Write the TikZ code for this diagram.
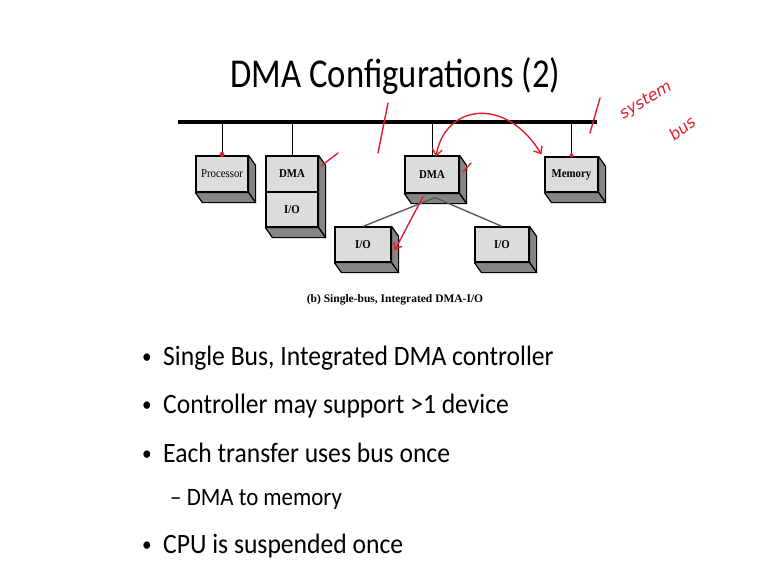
\documentclass[tikz,border=0pt]{standalone}
\usepackage{fontspec}
\setmainfont{Carlito}
\newfontfamily\titlefont[FakeStretch=0.845]{Carlito}
\newfontfamily\bulletfont[FakeStretch=0.915]{Carlito}
\newfontfamily\figfont[FakeStretch=0.9]{Liberation Serif}
\newfontfamily\capfont{Liberation Serif}
\newfontfamily\handfont{DejaVu Sans}
\usetikzlibrary{arrows.meta}

\definecolor{facegray}{HTML}{DCDCDC}
\definecolor{sidegray}{HTML}{858585}
\definecolor{linkgray}{HTML}{5A5A5A}
\definecolor{pen}{HTML}{E0202C}

% darker right and bottom faces of a 3-D box
\newcommand\boxdepth[2]{%
  \filldraw[sideface] (#1.north east) -- ++(7,10) -- ([shift={(7,10)}]#2.south east) -- (#2.south east) -- cycle;
  \filldraw[sideface] (#2.south west) -- (#2.south east) -- ++(7,10) -- ([shift={(7,10)}]#2.south west) -- cycle;
}

\begin{document}
\begin{tikzpicture}[x=1pt,y=-1pt,
  frontface/.style={draw=black, line width=1.2pt, fill=facegray, inner sep=0pt,
    font=\figfont\bfseries\fontsize{12}{14}\selectfont},
  sideface/.style={draw=black, line width=1.2pt, fill=sidegray, line join=round},
  drop/.style={draw=black, line width=1pt},
  link/.style={draw=linkgray, line width=1.4pt},
  ink/.style={draw=pen, line width=1.4pt, line cap=round, line join=round},
  inkarrow/.style={ink, -{Straight Barb[length=6pt,width=9pt]}},
  bullet/.style={anchor=base west, inner sep=0pt, font=\bulletfont\fontsize{28}{32}\selectfont},
  dot/.style={anchor=base west, inner sep=0pt, font=\bulletfont\fontsize{21}{24}\selectfont},
  subbullet/.style={anchor=base west, inner sep=0pt, font=\bulletfont\fontsize{25}{29}\selectfont},
  hand/.style={text=pen, inner sep=0pt, font=\handfont\itshape\fontsize{16}{18}\selectfont},
]
\useasboundingbox[fill=white] (0,0) rectangle (767,574);

% title
\node[anchor=base, inner sep=0pt, font=\titlefont\fontsize{41}{48}\selectfont] (title) at (395.5,87) {DMA Configurations (2)};

% system bus
\coordinate (busL) at (178,122);
\coordinate (busR) at (597,122);
\draw[line width=4.5pt] (busL) -- (busR);

% modules
\node[frontface, minimum width=52, minimum height=36] (proc) at (222,174) {\mdseries Processor};
\node[frontface, minimum width=52, minimum height=36] (dmaA) at (292,174) {DMA};
\node[frontface, minimum width=52, minimum height=35] (ioA) at (292,209.5) {I/O};
\node[frontface, minimum width=54, minimum height=37] (dmaB) at (432,174.5) {DMA};
\node[frontface, minimum width=53, minimum height=35] (mem) at (571.5,174.5) {Memory};
\node[frontface, minimum width=56, minimum height=35] (ioL) at (363,244.5) {I/O};
\node[frontface, minimum width=54, minimum height=35] (ioR) at (502,244.5) {I/O};

\boxdepth{proc}{proc}
\boxdepth{dmaA}{ioA}
\boxdepth{dmaB}{dmaB}
\boxdepth{mem}{mem}
\boxdepth{ioL}{ioL}
\boxdepth{ioR}{ioR}

% bus taps
\draw[drop] (proc.north) -- (proc.north |- busL);
\draw[drop] (dmaA.north) -- (dmaA.north |- busL);
\draw[drop] (dmaB.north) -- (dmaB.north |- busL);
\draw[drop] (mem.north) -- (mem.north |- busL);

% DMA to its I/O devices
\coordinate (fork) at ([shift={(3,4)}]dmaB.south);
\draw[link] (fork) -- (ioL.north);
\draw[link] (fork) -- (ioR.north);

% caption
\node[inner sep=0pt, font=\capfont\bfseries\fontsize{11.5}{13}\selectfont] (cap) at (395,300) {(b) Single-bus, Integrated DMA-I/O};

% bullet list
\node[dot] (d1) at (142,363) {•};
\node[bullet] (b1) at (163,365) {Single Bus, Integrated DMA controller};
\node[dot] (d2) at (142,411) {•};
\node[bullet] (b2) at (163,413) {Controller may support >1 device};
\node[dot] (d3) at (142,460) {•};
\node[bullet] (b3) at (163,462) {Each transfer uses bus once};
\node[subbullet] (s1) at (170,505) {– DMA to memory};
\node[dot] (d4) at (142,551) {•};
\node[bullet] (b4) at (163,553) {CPU is suspended once};

% red pen annotations
\fill[pen] ([yshift=1]proc.north) circle (2.5);
\fill[pen] ([yshift=1]mem.north) circle (2);
\coordinate (slashAtop) at (388,103);
\coordinate (slashAbot) at (378,153);
\draw[ink] (slashAtop) -- (slashAbot);
\coordinate (slashBtop) at (600,98);
\coordinate (slashBbot) at (590,133);
\draw[ink] (slashBtop) -- (slashBbot);
\coordinate (tickAa) at (321,166);
\coordinate (tickAb) at (338,153);
\draw[ink] (tickAa) -- (tickAb);
\coordinate (tickBa) at (463,172);
\coordinate (tickBb) at (471,163);
\draw[ink] (tickBa) -- (tickBb);
\coordinate (penDMA) at ([shift={(4,1)}]dmaB.north);
\coordinate (penMem) at ([shift={(-30,-2)}]mem.north);
\draw[ink, {Straight Barb[length=6pt,width=10pt]}-{Straight Barb[length=6pt,width=10pt]}]
  (penDMA) .. controls (445,105) and (505,95) .. (penMem);
\coordinate (penFork) at ([shift={(-9,3)}]dmaB.south);
\coordinate (penIO) at ([shift={(3,6)}]ioL.east);
\draw[inkarrow] (penFork) -- (penIO);
\node[hand, rotate=31] (hw1) at (646,101) {system};
\node[hand, rotate=38] (hw2) at (682,128) {bus};
\end{tikzpicture}
\end{document}
